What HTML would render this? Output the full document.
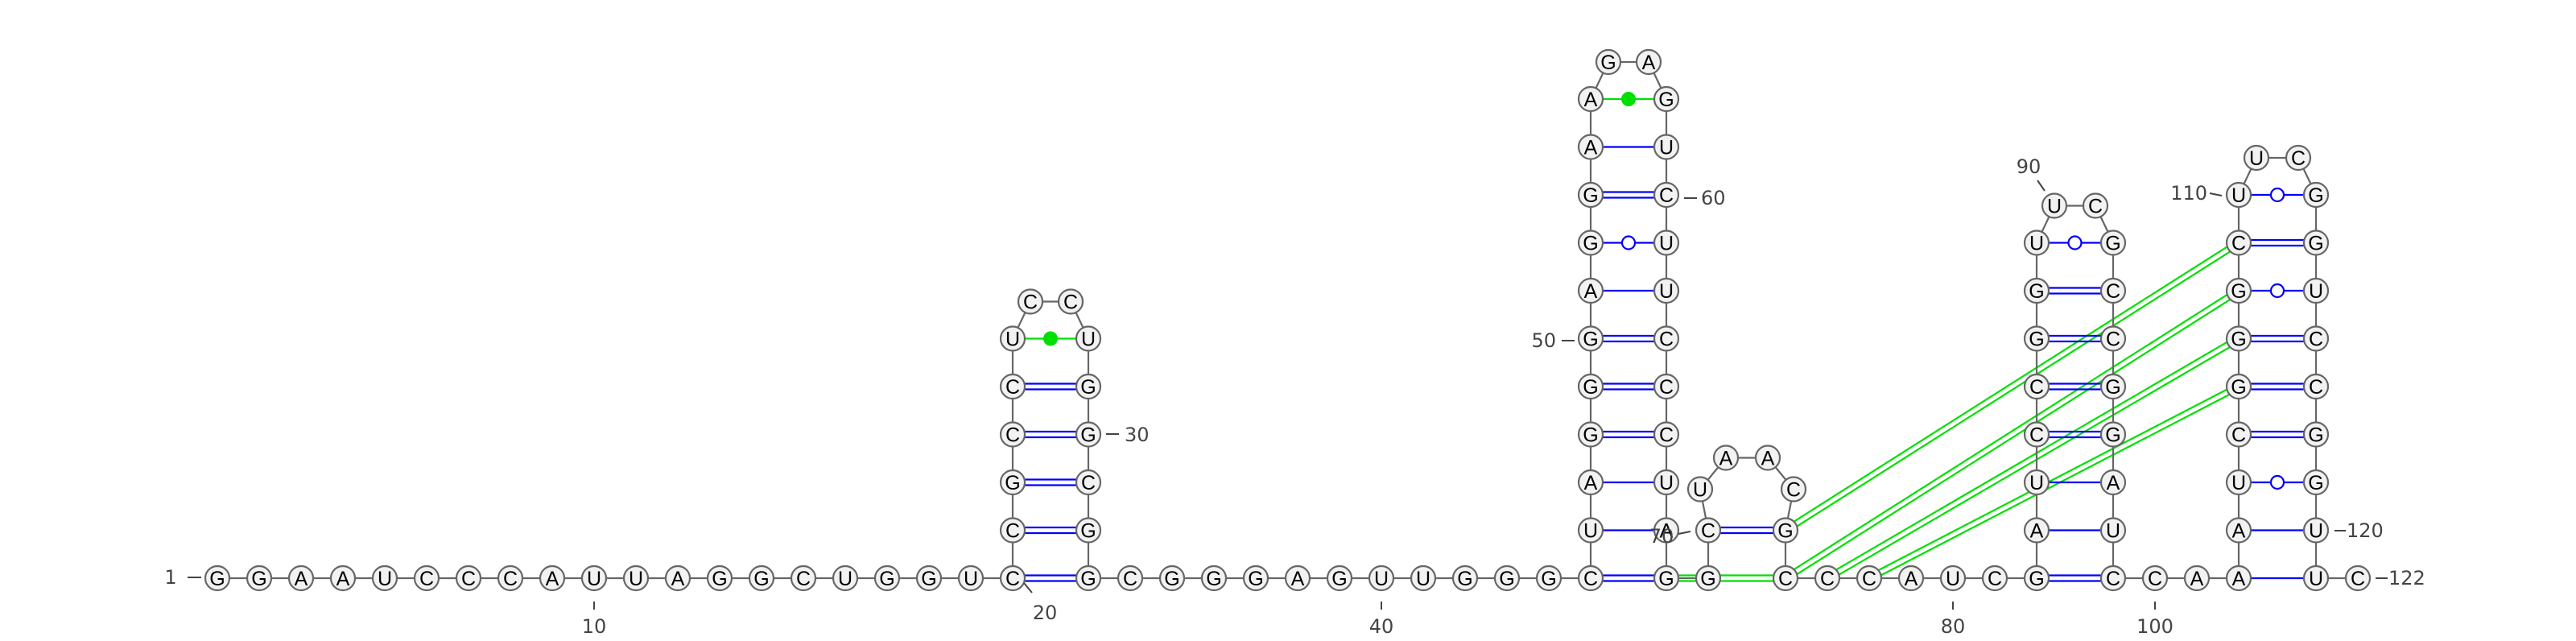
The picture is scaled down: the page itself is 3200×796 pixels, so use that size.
<!DOCTYPE html>
<html><head><meta charset="utf-8"><title>RNA secondary structure</title>
<style>
html,body{margin:0;padding:0;background:#fff;}
svg{display:block;}
.nt{font-family:"Liberation Sans",sans-serif;font-size:25px;fill:#000;text-anchor:middle;dominant-baseline:central;}
.num{font-family:"DejaVu Sans","Liberation Sans",sans-serif;font-size:24px;fill:#444;dominant-baseline:central;}
</style></head>
<body>
<svg id="rna" width="3200" height="796" viewBox="0 0 3200 796" xmlns="http://www.w3.org/2000/svg">
<g id="lk"></g>
<g id="bb"></g>
<g id="bp"></g>
<g id="nts"></g>
<g id="lbl"></g>
</svg>
<script>
// ---- data ----
const sequence = "GGAAUCCCAUUAGGCUGGUCCGCCUCCUGGCGGCGGGAGUUGGGCUAGGGAGGAAGAGUCUUCCCUAGGCUAACGCCCAUCGAUCCGGUUCGCCGGAUCCAAAUCGGGCUUCGGUCCGGUUC";
const helixOpen = [20, 45, 70, 82, 102];
const helixClose = [33, 68, 75, 99, 121];
const helixLen = [6, 11, 1, 8, 9];
const pseudoknots = [[68, 76], [75, 109], [76, 108], [77, 107], [78, 106]];
const tickPositions = [1, 10, 20, 30, 40, 50, 60, 70, 80, 90, 100, 110, 120, 122];

// ---- layout ----
const NS = "http://www.w3.org/2000/svg";
const BASEY = 718, STEP = 52, ROW = 59.5, R = 15;
const pos = {};
const segs = [[1, 20, 270], [33, 45, 1352], [68, 69, 2070], [76, 82, 2218], [99, 102, 2625], [121, 122, 2877]];
segs.forEach(([a, b, x0]) => { for (let i = a; i <= b; i++) pos[i] = {x: x0 + (i - a) * STEP, y: BASEY}; });
const pairs = [];
helixOpen.forEach((o, h) => {
  const c = helixClose[h];
  let lx, rx, y0 = BASEY;
  if (h === 2) { lx = 2122; rx = 2218; y0 = BASEY - ROW; }
  else { lx = pos[o].x; rx = pos[c].x; }
  for (let k = 0; k < helixLen[h]; k++) {
    pos[o + k] = {x: lx, y: y0 - k * ROW};
    pos[c - k] = {x: rx, y: y0 - k * ROW};
    pairs.push([o + k, c - k]);
  }
  const topY = y0 - (helixLen[h] - 1) * ROW;
  const ls = o + helixLen[h], le = c - helixLen[h];
  const n = le - ls + 1;
  if (n === 2) {
    pos[ls] = {x: lx + 22, y: topY - 46};
    pos[le] = {x: rx - 22, y: topY - 46};
  } else {
    const offs = [[-10, -51], [22, -90], [74, -90], [106, -51]];
    for (let k = 0; k < n; k++) pos[ls + k] = {x: lx + offs[k][0], y: topY + offs[k][1]};
  }
});

function mk(tag, attrs, parent) {
  const e = document.createElementNS(NS, tag);
  for (const k in attrs) e.setAttribute(k, attrs[k]);
  parent.appendChild(e);
  return e;
}
const gLk = document.getElementById("lk"), gBb = document.getElementById("bb"),
      gBp = document.getElementById("bp"), gN = document.getElementById("nts"), gL = document.getElementById("lbl");

function dbl(p, q, color, parent, name) {
  const dx = q.x - p.x, dy = q.y - p.y, L = Math.hypot(dx, dy);
  const nx = -dy / L * 3.5, ny = dx / L * 3.5;
  [1, -1].forEach(s => {
    const l = mk("line", {x1: p.x + nx * s, y1: p.y + ny * s, x2: q.x + nx * s, y2: q.y + ny * s, stroke: color, "stroke-width": 2.2}, parent);
    
    
  });
}

// pseudoknots
pseudoknots.forEach(([a, b]) => dbl(pos[a], pos[b], "#00e000", gLk, "pseudoknot-link"));

// backbone
for (let i = 1; i < sequence.length; i++) {
  const l = mk("line", {x1: pos[i].x, y1: pos[i].y, x2: pos[i + 1].x, y2: pos[i + 1].y, stroke: "#666", "stroke-width": 2.2}, gBb);
  
  
}

// base pairs
pairs.forEach(([a, b]) => {
  const p = pos[a], q = pos[b];
  const t = sequence[a - 1] + sequence[b - 1];
  if (t === "GC" || t === "CG") dbl(p, q, "#0000ff", gBp, "gc-pair");
  else {
    const col = (t === "AU" || t === "UA" || t === "GU" || t === "UG") ? "#0000ff" : "#00e000";
    const l = mk("line", {x1: p.x, y1: p.y, x2: q.x, y2: q.y, stroke: col, "stroke-width": 2.2}, gBp);
    
    
    const mx = (p.x + q.x) / 2, my = (p.y + q.y) / 2;
    if (t === "GU" || t === "UG") {
      const c = mk("circle", {cx: mx, cy: my, r: 8, fill: "#fff", stroke: "#0000ff", "stroke-width": 2.2}, gBp);
      
      
    } else if (col === "#00e000") {
      const c = mk("circle", {cx: mx, cy: my, r: 9, fill: "#00e000"}, gBp);
      
      
    }
  }
});

// nucleotides
for (let i = 1; i <= sequence.length; i++) {
  const g = mk("g", {}, gN);
  
  
  mk("circle", {cx: pos[i].x, cy: pos[i].y, r: R, fill: "#f2f2f2", stroke: "#666", "stroke-width": 2.2}, g);
  const t = mk("text", {x: pos[i].x, y: pos[i].y + 1, class: "nt"}, g);
  t.textContent = sequence[i - 1];
}

// position labels (tick geometry per label)
const tickGeom = {
  1:   {line: [233, 717, 250, 717], tx: 212, ty: 717, anchor: "middle"},
  10:  {line: [null, 747, null, 757], tx: null, ty: 778, anchor: "middle"},
  20:  {line: [1272, 724, 1282, 736], tx: 1298, ty: 761, anchor: "middle"},
  30:  {line: [1374, 539, 1390, 539], tx: 1397, ty: 540, anchor: "start"},
  40:  {line: [null, 747, null, 757], tx: null, ty: 778, anchor: "middle"},
  50:  {line: [1940, 423, 1956, 423], tx: 1933, ty: 423, anchor: "end"},
  60:  {line: [2092, 246, 2108, 246], tx: 2113, ty: 246, anchor: "start"},
  70:  {line: [2085, 663, 2100, 660], tx: 2064, ty: 666, anchor: "middle"},
  80:  {line: [null, 747, null, 757], tx: null, ty: 778, anchor: "middle"},
  90:  {line: [2531, 224, 2540, 237], tx: 2520, ty: 207, anchor: "middle"},
  100: {line: [null, 747, null, 757], tx: null, ty: 778, anchor: "middle"},
  110: {line: [2745, 240, 2760, 243], tx: 2742, ty: 240, anchor: "end"},
  120: {line: [2900, 659, 2914, 659], tx: 2915, ty: 659, anchor: "start"},
  122: {line: [2951, 718, 2966, 718], tx: 2967, ty: 718, anchor: "start"}
};
tickPositions.forEach(n => {
  const g = tickGeom[n];
  const L = g.line.map(v => v === null ? pos[n].x : v);
  const l = mk("line", {x1: L[0], y1: L[1], x2: L[2], y2: L[3], stroke: "#444", "stroke-width": 2}, gL);
  
  
  const t = mk("text", {x: g.tx === null ? pos[n].x : g.tx, y: g.ty, class: "num", "text-anchor": g.anchor}, gL);
  
  
  t.textContent = String(n);
});
</script>
</body></html>
